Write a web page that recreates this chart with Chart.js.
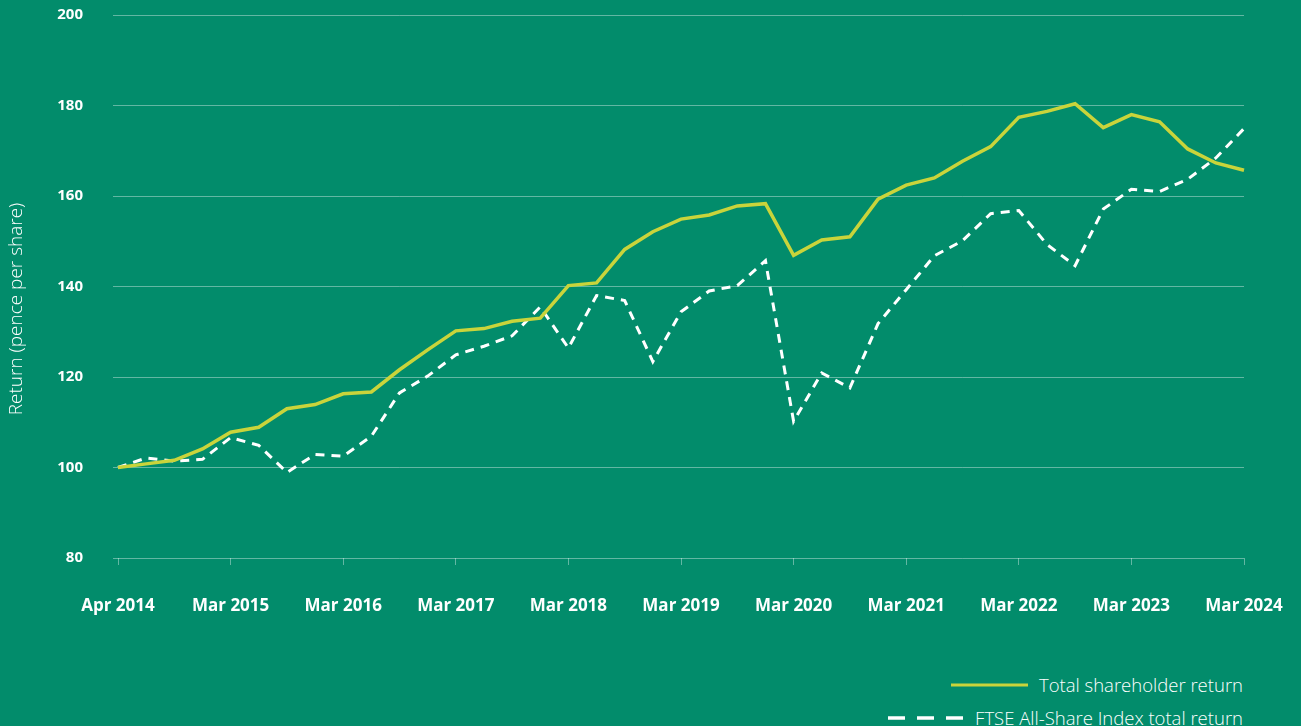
<!DOCTYPE html>
<html>
<head>
<meta charset="utf-8">
<script src="https://cdn.jsdelivr.net/npm/chart.js@4.4.1/dist/chart.umd.min.js"></script>
<style>
    html, body {
        margin: 0;
        padding: 0;
        background: #028c6b;
        width: 1301px;
        height: 726px;
        overflow: hidden;
        font-family: 'Open Sans', sans-serif;
    }
    #wrap {
        position: absolute;
        left: 0;
        top: 0;
        width: 1301px;
        height: 660px;
    }
    #legend {
        position: absolute;
        right: 58px;
        top: 668px;
        display: flex;
        flex-direction: column;
        align-items: flex-end;
        color: #ffffff;
        font-size: 18.5px;
        font-weight: 300;
    }
    .item {
        display: flex;
        align-items: center;
        height: 33px;
    }
    .item svg {
        margin-right: 11px;
    }
</style>
</head>
<body>
<div id="wrap"><canvas id="returns_chart"></canvas></div>
<div id="legend"></div>

<script>
// x axis: quarterly points, labelled once a year
const tickLabels = ['Apr 2014', 'Mar 2015', 'Mar 2016', 'Mar 2017', 'Mar 2018', 'Mar 2019',
    'Mar 2020', 'Mar 2021', 'Mar 2022', 'Mar 2023', 'Mar 2024'];

const categories = [];
tickLabels.forEach((label, i) => {
    categories.push(label);
    if (i < tickLabels.length - 1) categories.push('', '', '');
});

const shareholderReturn = [100, 100.8, 101.6, 104.1, 107.8, 108.9, 113.0, 113.9, 116.3, 116.7,
    121.6, 126.0, 130.2, 130.7, 132.3, 133.0, 140.2, 140.8, 148.2, 152.1,
    154.9, 155.8, 157.8, 158.3, 146.9, 150.3, 151.0, 159.3, 162.4, 164.0,
    167.7, 170.9, 177.4, 178.7, 180.4, 175.1, 178.0, 176.4, 170.4, 167.3, 165.7];

const ftseReturn = [100, 102.1, 101.4, 101.8, 106.6, 104.9, 98.9, 102.9, 102.5, 106.9,
    116.5, 120.2, 124.9, 126.8, 129.1, 135.5, 126.4, 138.0, 136.9, 123.4,
    134.4, 139.0, 140.2, 145.7, 110.2, 120.9, 117.6, 131.8, 139.3, 146.8,
    150.1, 156.1, 156.8, 149.3, 144.6, 157.1, 161.5, 161.0, 163.7, 168.4, 174.9];

const yTicks = [80, 100, 120, 140, 160, 180, 200];

const gridColor = 'rgba(255, 255, 255, 0.38)';
const tsrColor = '#c9d43b';

// rotated y axis title, placed by hand
const yTitle = {
    id: 'yTitle',
    afterDraw(chart) {
        const c = chart.ctx;
        c.save();
        c.translate(17, 309);
        c.rotate(-Math.PI / 2);
        c.fillStyle = '#ffffff';
        c.font = '300 19px "Open Sans"';
        c.textAlign = 'center';
        c.textBaseline = 'middle';
        c.fillText('Return (pence per share)', 0, 0);
        c.restore();
    }
};

const ctx = document.getElementById('returns_chart').getContext('2d');

const chart = new Chart(ctx, {
    type: 'line',
    data: {
        labels: categories,
        datasets: [{
            label: 'Total shareholder return',
            data: shareholderReturn,
            borderColor: tsrColor,
            borderWidth: 3.5,
            pointRadius: 0,
            tension: 0,
            fill: false
        }, {
            label: 'FTSE All-Share Index total return',
            data: ftseReturn,
            borderColor: '#ffffff',
            borderWidth: 3,
            borderDash: [9, 7],
            pointRadius: 0,
            tension: 0,
            fill: false
        }]
    },
    options: {
        responsive: true,
        maintainAspectRatio: false,
        animation: false,
        layout: {
            autoPadding: false,
            padding: { left: 0, right: 57, top: 15, bottom: 0 }
        },
        plugins: {
            legend: { display: false },
            tooltip: { enabled: false }
        },
        scales: {
            x: {
                offset: false,
                border: { display: false },
                grid: {
                    drawOnChartArea: false,
                    drawTicks: true,
                    tickLength: 7,
                    color: c => (c.index % 4 === 0 ? gridColor : 'transparent')
                },
                ticks: {
                    autoSkip: false,
                    maxRotation: 0,
                    minRotation: 0,
                    padding: 31,
                    color: '#ffffff',
                    font: { family: 'Open Sans', size: 17, weight: 'bold' },
                    callback: function (value, index) {
                        return categories[index];
                    }
                },
                afterFit: scale => {
                    scale.height = 660 - 558;
                    scale.paddingLeft = 0;
                    scale.paddingRight = 0;
                }
            },
            y: {
                min: 80,
                max: 200,
                border: { display: false },
                grid: {
                    color: gridColor,
                    lineWidth: 1,
                    drawTicks: true,
                    tickLength: 5
                },
                afterBuildTicks: scale => {
                    scale.ticks = yTicks.map(v => ({ value: v }));
                },
                ticks: {
                    padding: 30,
                    color: '#ffffff',
                    font: { family: 'Open Sans', size: 15, weight: 'bold' }
                },
                afterFit: scale => {
                    scale.width = 118;
                    scale.paddingTop = 0;
                    scale.paddingBottom = 0;
                }
            }
        }
    },
    plugins: [yTitle]
});

// legend built from the datasets
const legend = document.getElementById('legend');
chart.data.datasets.forEach(ds => {
    const row = document.createElement('div');
    row.className = 'item';
    const dashed = ds.borderDash && ds.borderDash.length;
    const w = dashed ? 76 : 77;
    row.innerHTML =
        '<svg width="' + w + '" height="6"><line x1="0" y1="3" x2="' + w + '" y2="3" stroke="' +
        ds.borderColor + '" stroke-width="' + (dashed ? 3.5 : 3) + '"' +
        (dashed ? ' stroke-dasharray="17 12"' : '') + '/></svg><span>' + ds.label + '</span>';
    legend.appendChild(row);
});
</script>
</body>
</html>
